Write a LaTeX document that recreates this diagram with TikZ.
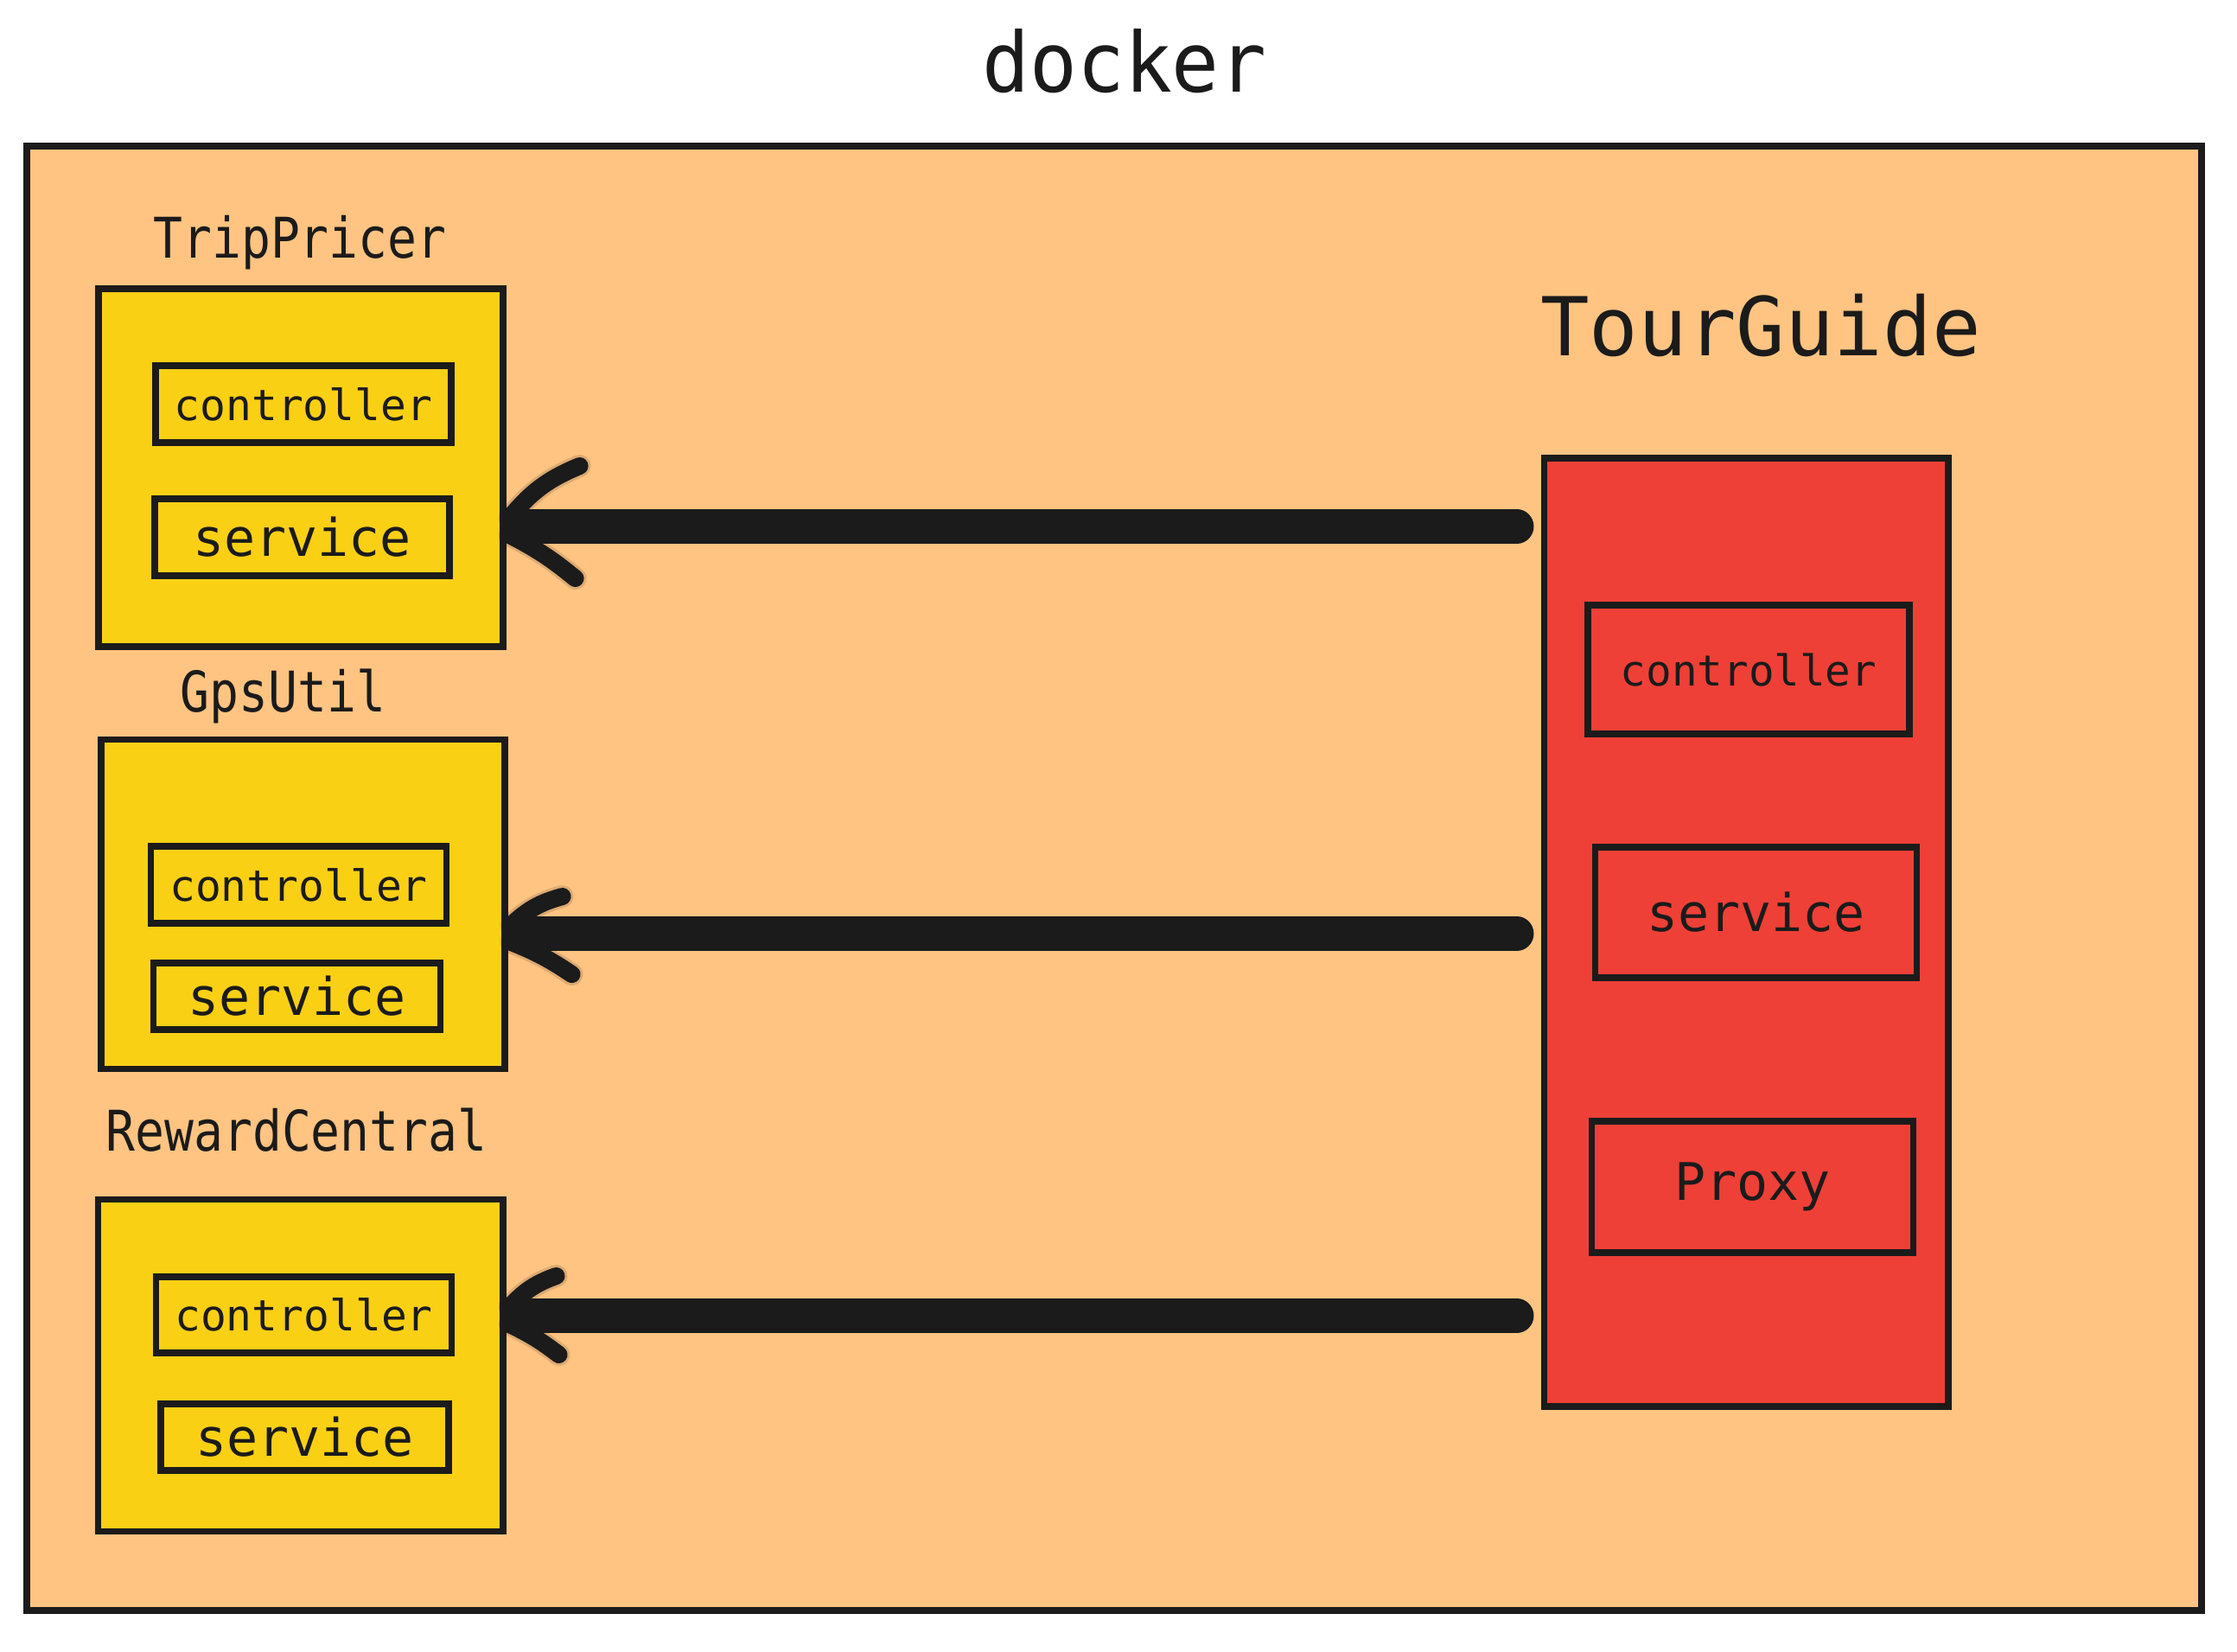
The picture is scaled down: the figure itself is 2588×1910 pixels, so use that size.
\documentclass[tikz,border=0pt]{standalone}
\usepackage{fontspec}
\newfontfamily\monoA{DejaVu Sans Mono}
\newfontfamily\monoB[FakeStretch=0.87]{DejaVu Sans Mono}
\newfontfamily\monoD[FakeStretch=0.95]{DejaVu Sans Mono}
\usetikzlibrary{calc}
\definecolor{ink}{HTML}{1B1B1B}
\definecolor{peach}{HTML}{FFC482}
\definecolor{sun}{HTML}{FAD015}
\definecolor{tomato}{HTML}{EE4037}
\begin{document}
\begin{tikzpicture}[x=0.25pt,y=-0.25pt,
  box/.style={draw=ink, line width=1.8pt, rectangle, inner sep=0pt, text=ink},
  svc/.style={box, fill=sun},
  tour/.style={box, fill=tomato},
  part/.style={box},
  ctl/.style={font=\monoA\fontsize{12.4pt}{14pt}\selectfont},
  srv/.style={font=\monoA\fontsize{15pt}{18pt}\selectfont},
  lbl/.style={anchor=base, text=ink, inner sep=0pt, font=\monoB\fontsize{16.2pt}{19pt}\selectfont},
  shaft/.style={draw=ink, line width=9.8pt, line cap=round},
  arm/.style={draw=ink, line width=5pt, line cap=round},
  armblur/.style={draw=ink, line width=6.5pt, line cap=round, opacity=0.15}
]
\useasboundingbox (0,0) rectangle (2588,1910);
\fill[white] (0,0) rectangle (2588,1910);

% title and outer container
\node[anchor=base, text=ink, inner sep=0pt, font=\monoD\fontsize{24pt}{28pt}\selectfont] (title) at (1301,106) {docker};
\node[draw=ink, line width=2pt, fill=peach, inner sep=0pt, minimum width=629.1pt, minimum height=423.5pt] (dock) at (1288.75,1016) {};

% TripPricer
\node[lbl] (tpl) at (347,298) {TripPricer};
\node[svc, minimum width=117pt, minimum height=103.5pt] (tp) at (348,541) {};
\node[part, ctl, minimum width=85.5pt, minimum height=22.25pt] (tpc) at (351,467.5) {controller};
\node[part, srv, minimum width=85.25pt, minimum height=22.25pt] (tps) at (349.5,621.5) {service};

% GpsUtil
\node[lbl] (gul) at (327.5,823) {GpsUtil};
\node[svc, minimum width=116.75pt, minimum height=95.4pt] (gu) at (350.5,1046) {};
\node[part, ctl, minimum width=85.5pt, minimum height=22.25pt] (guc) at (345.5,1023.5) {controller};
\node[part, srv, minimum width=83pt, minimum height=19.25pt] (gus) at (343.5,1152.5) {service};

% RewardCentral
\node[lbl] (rcl) at (343,1331) {RewardCentral};
\node[svc, minimum width=117.1pt, minimum height=96pt] (rc) at (347.75,1579.5) {};
\node[part, ctl, minimum width=85.5pt, minimum height=22pt] (rcc) at (351.5,1521) {controller};
\node[part, srv, minimum width=83.25pt, minimum height=19.25pt] (rcs) at (352.5,1662.5) {service};

% TourGuide
\node[anchor=base, text=ink, inner sep=0pt, font=\monoA\fontsize{23.5pt}{28pt}\selectfont] (tgl) at (2037,411) {TourGuide};
\node[tour, minimum width=116.9pt, minimum height=274.25pt] (tg) at (2020.25,1078.5) {};
\node[part, font=\monoA\fontsize{12.3pt}{14pt}\selectfont, minimum width=93pt, minimum height=37.25pt] (tgc) at (2023,774.5) {controller};
\node[part, srv, minimum width=93pt, minimum height=37.75pt] (tgs) at (2031.5,1055.5) {service};
\node[part, srv, minimum width=93pt, minimum height=38pt] (tgp) at (2027.5,1373) {Proxy};

% connectors
\path (0,609) coordinate (y1) (0,1080) coordinate (y2) (0,1522) coordinate (y3);
\coordinate (t1) at (tp.east |- y1);
\coordinate (t2) at (gu.east |- y2);
\coordinate (t3) at (rc.east |- y3);
\coordinate (e1) at (tg.west |- y1);
\coordinate (e2) at (tg.west |- y2);
\coordinate (e3) at (tg.west |- y3);

\draw[shaft] ($(t1)+(20,0)$) -- ($(e1)+(-28,0)$);
\draw[shaft] ($(t2)+(20,0)$) -- ($(e2)+(-28,0)$);
\draw[shaft] ($(t3)+(20,0)$) -- ($(e3)+(-28,0)$);

\foreach \t/\ux/\uy/\lx/\ly in {t1/85/-70/80/60, t2/63/-43/74/47, t3/58/-46/61/45}{
  \draw[armblur] ($(\t)+(4,-10)$) to[bend left=14] ($(\t)+(\ux,\uy)$);
  \draw[armblur] ($(\t)+(4,10)$) to[bend left=6] ($(\t)+(\lx,\ly)$);
  \draw[arm] ($(\t)+(4,-10)$) to[bend left=14] ($(\t)+(\ux,\uy)$);
  \draw[arm] ($(\t)+(4,10)$) to[bend left=6] ($(\t)+(\lx,\ly)$);
}
\end{tikzpicture}
\end{document}
